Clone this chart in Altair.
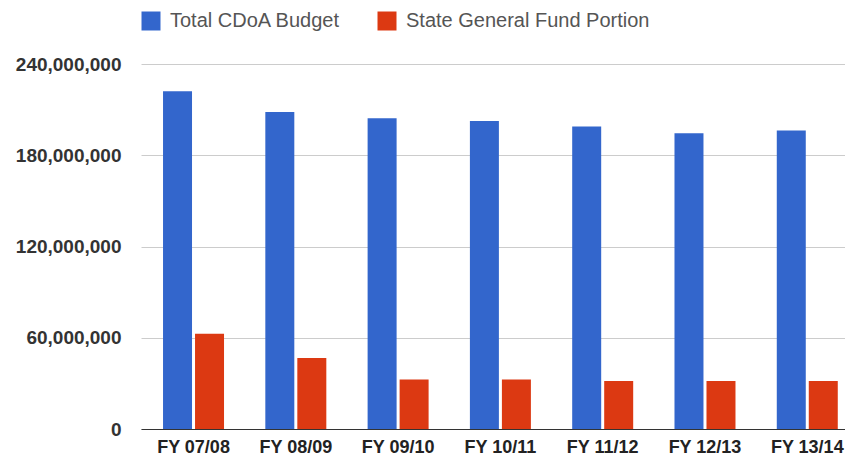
import altair as alt
import pandas as pd

years = ["FY 07/08", "FY 08/09", "FY 09/10", "FY 10/11", "FY 11/12", "FY 12/13", "FY 13/14"]
total_budget = [222_100_000, 208_500_000, 204_400_000, 202_600_000, 198_900_000, 194_500_000, 196_200_000]
general_fund = [62_600_000, 46_700_000, 32_600_000, 32_600_000, 31_500_000, 31_500_000, 31_500_000]
series = ["Total CDoA Budget", "State General Fund Portion"]
colors = ["#3366CC", "#DC3912"]
y_ticks = [0, 60_000_000, 120_000_000, 180_000_000, 240_000_000]

rows = []
for i, yr in enumerate(years):
    rows.append({"year": yr, "series": series[0], "value": total_budget[i]})
    rows.append({"year": yr, "series": series[1], "value": general_fund[i]})
df = pd.DataFrame(rows)

FONT = "Liberation Sans, Arial, Helvetica, sans-serif"

chart = alt.Chart(df).mark_bar().encode(
    x=alt.X(
        "year:N",
        sort=years,
        scale=alt.Scale(paddingInner=0.4037, paddingOuter=0.143, align=0.753),
        axis=alt.Axis(
            title=None, labelAngle=0, labelFont=FONT, labelFontWeight="bold",
            labelFontSize=18, labelColor="#222", labelPadding=9,
            ticks=False, tickSize=0, domainColor="#333", domainWidth=1, grid=False,
        ),
    ),
    xOffset=alt.XOffset("series:N", sort=series,
                        scale=alt.Scale(domain=series, paddingInner=0.094, paddingOuter=0)),
    y=alt.Y(
        "value:Q",
        scale=alt.Scale(domain=[0, 240_000_000], nice=False),
        axis=alt.Axis(
            title=None, values=y_ticks, format=",d", labelFont=FONT,
            labelFontSize=19, labelFontWeight="bold", labelColor="#333",
            labelPadding=20, ticks=False, tickSize=0, domain=False,
            gridColor="#cccccc", gridWidth=1,
        ),
    ),
    color=alt.Color(
        "series:N",
        sort=series,
        scale=alt.Scale(domain=series, range=colors),
        legend=alt.Legend(
            title=None, orient="none", legendX=0, legendY=-53,
            direction="horizontal", symbolType="square", symbolSize=361,
            symbolStrokeWidth=0, labelFont=FONT, labelFontSize=20,
            labelColor="#555", labelOffset=9, columnPadding=36, labelLimit=400,
        ),
    ),
).properties(
    width=704,
    height=365,
    autosize=alt.AutoSizeParams(type="none"),
    padding={"left": 133, "top": 56, "right": 0, "bottom": 27},
).configure_view(stroke=None)

chart.save("out.html", embed_options={"renderer": "svg", "actions": False})
